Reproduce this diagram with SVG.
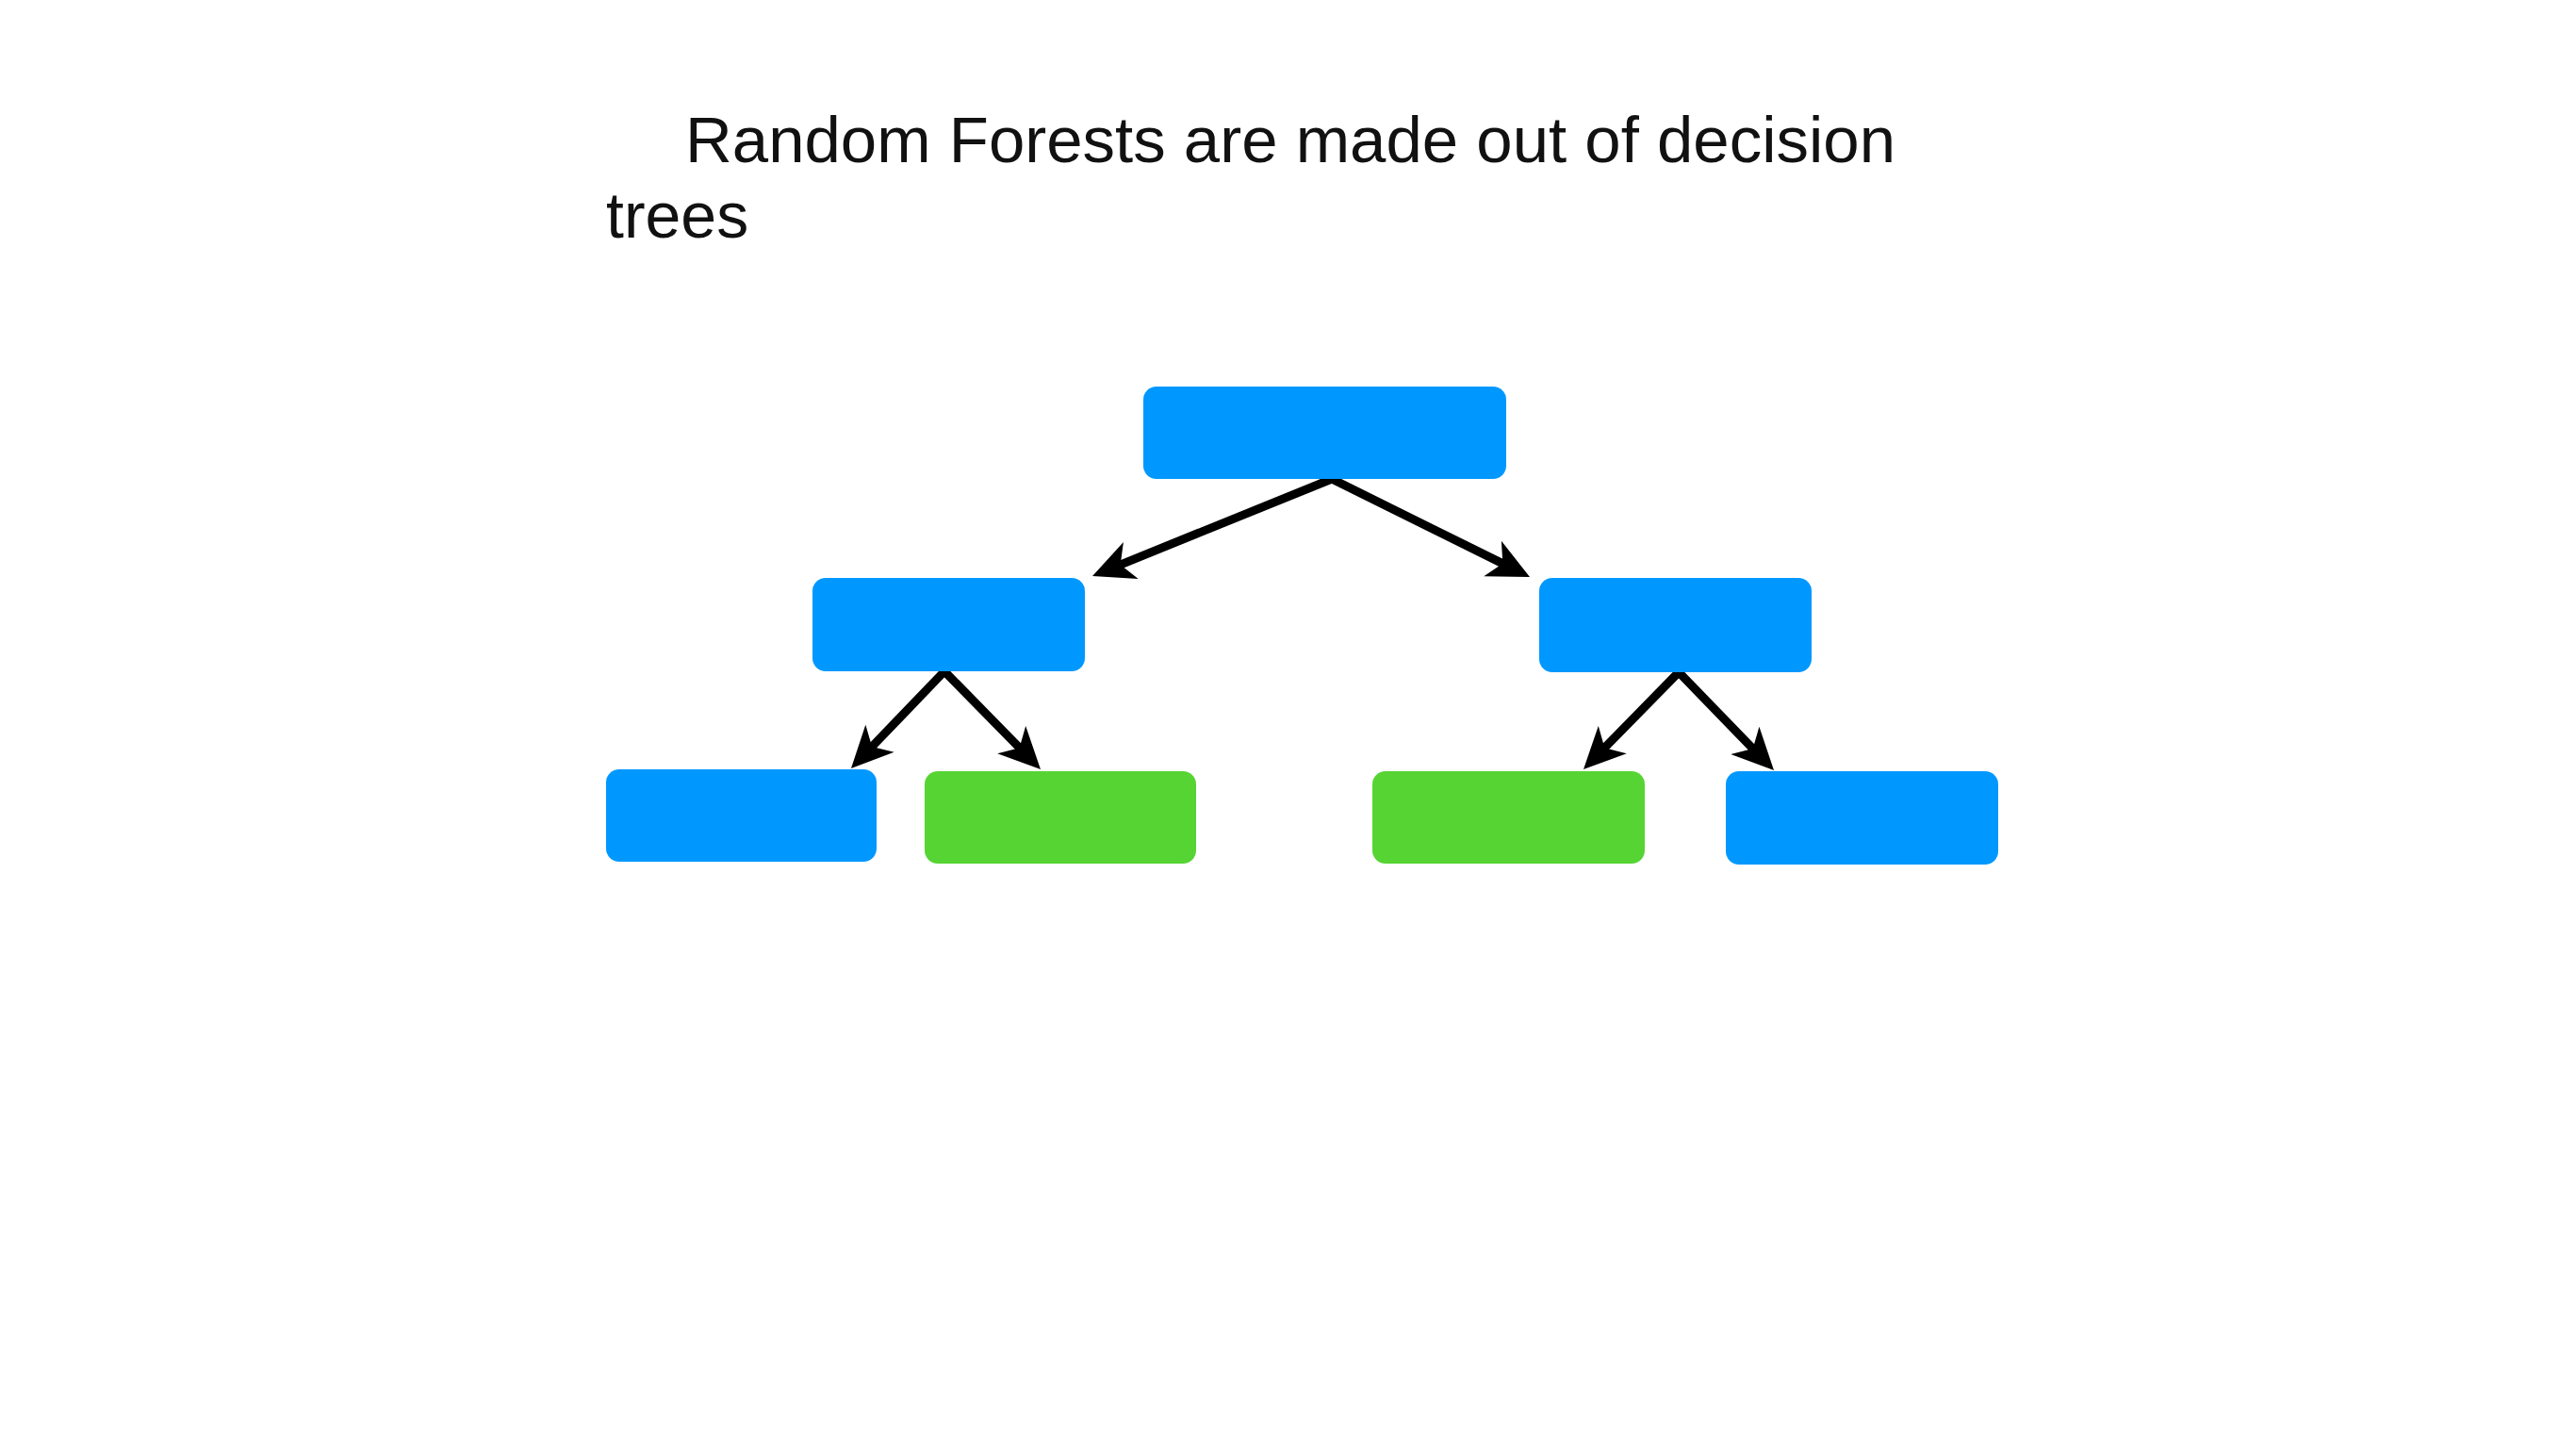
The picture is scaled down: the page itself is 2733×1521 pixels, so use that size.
<svg xmlns="http://www.w3.org/2000/svg" width="2733" height="1521" viewBox="0 0 2733 1521">
  <style>
    .title { font-family: "Liberation Sans", Arial, sans-serif; font-size: 68px; fill: #111111; }
    .blue { fill: #0098FF; }
    .green { fill: #56D433; }
    .conn { stroke: #000000; stroke-width: 9; fill: none; marker-end: url(#arrow); }
  </style>
  <defs>
    <marker id="arrow" markerUnits="userSpaceOnUse" viewBox="-50 -25 60 50" markerWidth="60" markerHeight="50" refX="-25" refY="0" orient="auto">
      <path d="M0,0 L-44,-21 L-32,0 L-44,21 Z" fill="#000000"/>
    </marker>
  </defs>
  <rect x="0" y="0" width="2733" height="1521" fill="#FFFFFF"/>
  <g id="title">
    <text class="title" x="727" y="172" textLength="1284" lengthAdjust="spacingAndGlyphs">Random Forests are made out of decision</text>
    <text class="title" x="643" y="252">trees</text>
  </g>
  <g id="connectors">
    <line class="conn" x1="1413" y1="508" x2="1182.2" y2="601.6"/>
    <line class="conn" x1="1413" y1="508" x2="1600.6" y2="600.9"/>
    <line class="conn" x1="1002" y1="712" x2="920.3" y2="797.0"/>
    <line class="conn" x1="1002" y1="712" x2="1086.5" y2="798.2"/>
    <line class="conn" x1="1781" y1="713" x2="1697.5" y2="798.2"/>
    <line class="conn" x1="1781" y1="713" x2="1864.6" y2="799.1"/>
  </g>
  <g id="root"><rect class="blue" x="1213" y="410" width="385" height="98" rx="14"/></g>
  <g id="left-mid"><rect class="blue" x="862" y="613" width="289" height="99" rx="14"/></g>
  <g id="right-mid"><rect class="blue" x="1633" y="613" width="289" height="100" rx="14"/></g>
  <g id="bottom-left"><rect class="blue" x="643" y="816" width="287" height="98" rx="14"/></g>
  <g id="green-left"><rect class="green" x="981" y="818" width="288" height="98" rx="14"/></g>
  <g id="green-right"><rect class="green" x="1456" y="818" width="289" height="98" rx="14"/></g>
  <g id="bottom-right"><rect class="blue" x="1831" y="818" width="289" height="99" rx="14"/></g>
</svg>
